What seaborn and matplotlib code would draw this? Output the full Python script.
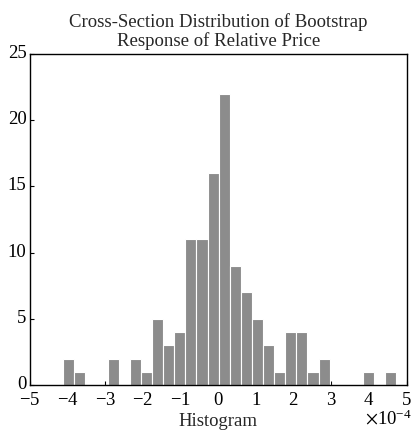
import numpy as np
import pandas as pd
import matplotlib
matplotlib.use("Agg")
import matplotlib.pyplot as plt
import matplotlib.transforms as mtrans
import seaborn as sns

# ---- data ----
counts = [2, 1, 0, 0, 2, 0, 2, 1, 5, 3, 4, 11, 11, 16, 22, 9, 7, 5, 3, 1,
          4, 4, 1, 2, 0, 0, 0, 1, 0, 1]
bin_start = -4.12e-4
bin_width = 0.295e-4
title = "Cross-Section Distribution of Bootstrap\nResponse of Relative Price"
xlabel = "Histogram"
y_ticks = [0, 5, 10, 15, 20, 25]
x_ticks = [-5e-4, -4e-4, -3e-4, -2e-4, -1e-4, 0, 1e-4, 2e-4, 3e-4, 4e-4, 5e-4]

edges = [bin_start + bin_width * i for i in range(len(counts) + 1)]
centers = [(edges[i] + edges[i + 1]) / 2 for i in range(len(counts))]
df = pd.DataFrame({"x": centers, "n": counts})

sns.set_style("ticks")
plt.rcParams["font.family"] = ["Liberation Serif", "DejaVu Serif"]
plt.rcParams["mathtext.fontset"] = "stix"
FS = 13.5
plt.rcParams["font.size"] = FS

fig = plt.figure(figsize=(4.18, 4.30), dpi=100)
ax = fig.add_axes([30 / 418, 1 - 385 / 430, 376.5 / 418, 331 / 430])

sns.histplot(data=df, x="x", weights="n", bins=edges, ax=ax,
             color="#8c8c8c", alpha=1, edgecolor="white", linewidth=0.8)

ax.set_xlim(-5e-4, 5e-4)
ax.set_ylim(0, 25)
ax.set_xticks(x_ticks)
ax.set_yticks(y_ticks)
ax.ticklabel_format(axis="x", style="sci", scilimits=(-4, -4), useMathText=True)
ax.set_axisbelow(True)
ax.tick_params(direction="in", length=3, width=0.8, labelsize=FS,
               colors="black")
ax.tick_params(axis="x", pad=5)
ax.tick_params(axis="y", pad=2.5)
for s in ax.spines.values():
    s.set_visible(True)
    s.set_linewidth(1.0)
    s.set_color("black")
shift = mtrans.ScaledTranslation(0, 2.5 / 100, fig.dpi_scale_trans)
for lab in ax.get_yticklabels():
    lab.set_transform(lab.get_transform() + shift)
ax.set_ylabel("")
ax.set_xlabel(xlabel, fontsize=FS, labelpad=3)
ax.set_title(title, fontsize=FS, pad=6, linespacing=1.05)
off = ax.xaxis.get_offset_text()
off.set_fontsize(FS)
off.set_x(1.015)
off.set_transform(off.get_transform() +
                  mtrans.ScaledTranslation(0, 4 / 100, fig.dpi_scale_trans))

fig.savefig("out.png", dpi=100)
